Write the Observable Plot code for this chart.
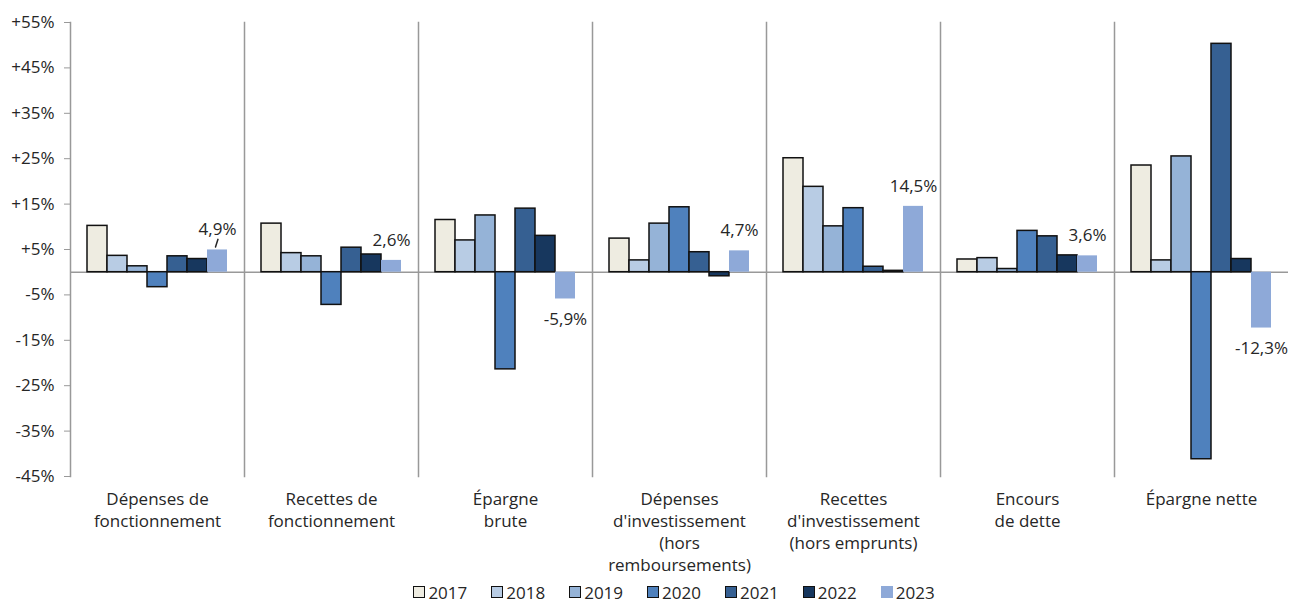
<!DOCTYPE html>
<html>
<head>
<meta charset="utf-8">
<script src="https://cdn.jsdelivr.net/npm/d3@7"></script>
<script src="https://cdn.jsdelivr.net/npm/@observablehq/plot@0.6"></script>
<style>
  body { margin: 0; background: #fff; font-family: "Open Sans", sans-serif; color: #262626; }
  #legend { display: flex; justify-content: center; padding-left: 56px; height: 20px; align-items: center; font-size: 17px; }
  .item { display: flex; align-items: center; margin: 0 12px; }
  .sw { width: 12px; height: 12px; box-sizing: border-box; margin-right: 3px; }
</style>
</head>
<body>
<div id="chart"></div>
<div id="legend"></div>
<script>
const groups = [
  "Dépenses de\nfonctionnement",
  "Recettes de\nfonctionnement",
  "Épargne\nbrute",
  "Dépenses\nd'investissement\n(hors\nremboursements)",
  "Recettes\nd'investissement\n(hors emprunts)",
  "Encours\nde dette",
  "Épargne nette"
];
const years = ["2017", "2018", "2019", "2020", "2021", "2022", "2023"];
const colors = ["#EEECE1", "#B8CCE4", "#95B3D7", "#4F81BD", "#366092", "#17375E", "#8EA9D8"];
// values in %, one array per year, in group order
const v2017 = [10.2, 10.7, 11.5, 7.4, 25.1, 2.8, 23.5];
const v2018 = [3.6, 4.2, 7.0, 2.6, 18.8, 3.1, 2.6];
const v2019 = [1.3, 3.5, 12.5, 10.7, 10.1, 0.7, 25.5];
const v2020 = [-3.3, -7.2, -21.4, 14.3, 14.1, 9.1, -41.2];
const v2021 = [3.5, 5.4, 14.0, 4.4, 1.2, 7.9, 50.3];
const v2022 = [2.9, 3.9, 8.0, -0.9, 0.3, 3.7, 2.9];
const v2023 = [4.9, 2.6, -5.9, 4.7, 14.5, 3.6, -12.3];
const yTicks = [-45, -35, -25, -15, -5, 5, 15, 25, 35, 45, 55];

const series = [v2017, v2018, v2019, v2020, v2021, v2022, v2023];
const data = [];
years.forEach((y, i) => groups.forEach((g, j) => data.push({group: g, year: y, value: series[i][j]})));
const outlined = data.filter(d => d.year !== "2023");
const last = data.filter(d => d.year === "2023");
const fmt = v => String(v).replace(".", ",") + "%";
const leader = last.filter(d => d.group === groups[0]);

const chart = Plot.plot({
  width: 1292,
  height: 582,
  marginTop: 22,
  marginBottom: 106,
  marginLeft: 68,
  marginRight: 2,
  style: {fontFamily: "Open Sans", fontSize: "17px", color: "#262626", background: "#fff"},
  fx: {domain: groups, padding: 0},
  x: {domain: years, paddingInner: 0, paddingOuter: 0.73, axis: null},
  y: {domain: [-45, 55]},
  color: {domain: years, range: colors},
  marks: [
    Plot.frame({anchor: "left", stroke: "#999", strokeWidth: 1.5}),
    Plot.ruleY([0], {stroke: "#999", strokeWidth: 1.5}),
    Plot.barY(outlined, {fx: "group", x: "year", y: "value", fill: "year", stroke: "#111", strokeWidth: 1.5}),
    Plot.barY(last, {fx: "group", x: "year", y: "value", fill: "year"}),
    Plot.vector(leader, {fx: "group", x: "year", y: "value", length: 8, rotate: 18, anchor: "start", dy: -3, dx: -2, stroke: "#262626", strokeWidth: 1.5,
      shape: {draw(ctx, l) { ctx.moveTo(0, 0); ctx.lineTo(0, -l); }}}),
    Plot.text(last.filter(d => d.value >= 0), {fx: "group", x: "year", y: "value", text: d => fmt(d.value), dy: -20, fill: "#262626"}),
    Plot.text(last.filter(d => d.value < 0), {fx: "group", x: "year", y: "value", text: d => fmt(d.value), dy: 21, fill: "#262626"}),
    Plot.axisY({ticks: yTicks, tickFormat: d => (d > 0 ? "+" : "") + d + "%", tickSize: 6, tickPadding: 10, stroke: "#999", fill: "#262626", label: null}),
    Plot.axisFx({anchor: "bottom", tickSize: 0, tickPadding: 13, lineHeight: 1.294, label: null, fill: "#262626"})
  ]
});
document.getElementById("chart").appendChild(chart);

const legend = document.getElementById("legend");
years.forEach((y, i) => {
  const item = document.createElement("div");
  item.className = "item";
  const sw = document.createElement("div");
  sw.className = "sw";
  sw.style.background = colors[i];
  sw.style.border = y === "2023" ? "none" : "1.5px solid #111";
  const t = document.createElement("span");
  t.textContent = y;
  item.appendChild(sw);
  item.appendChild(t);
  legend.appendChild(item);
});
</script>
</body>
</html>
